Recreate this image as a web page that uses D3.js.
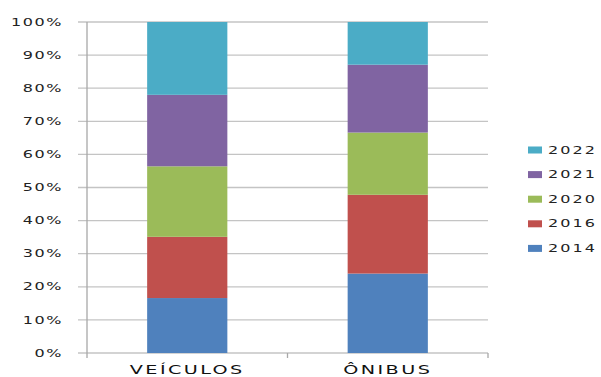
<!DOCTYPE html>
<html><head><meta charset="utf-8">
<script src="https://cdn.jsdelivr.net/npm/d3@7"></script>
<style>html,body{margin:0;padding:0;background:#fff;}svg{display:block;}</style>
</head><body><svg id="c" width="601" height="377"></svg>
<script>
const categories = ["VEÍCULOS", "ÔNIBUS"];
const years = ["2014", "2016", "2020", "2021", "2022"];
const colors = ["#4f81bd", "#c0504d", "#9bbb59", "#8064a2", "#4bacc6"];
const v2014 = [16.6, 24.0];
const v2016 = [18.5, 23.8];
const v2020 = [21.3, 18.8];
const v2021 = [21.6, 20.5];
const v2022 = [22.0, 12.9];
const yTicks = [0, 0.1, 0.2, 0.3, 0.4, 0.5, 0.6, 0.7, 0.8, 0.9, 1.0];

const seriesVals = [v2014, v2016, v2020, v2021, v2022];
const data = categories.map((c, i) => {
  const o = {cat: c};
  years.forEach((y, k) => o[y] = seriesVals[k][i]);
  return o;
});
const stacked = d3.stack().keys(years).offset(d3.stackOffsetExpand)(data);

const svg = d3.select("#c");
const L = 87, R = 488, T = 22, B = 353;
const x = d3.scaleBand().domain(categories).range([L, R]).paddingInner(0.6).paddingOuter(0.3);
const y = d3.scaleLinear().domain([0, 1]).range([B, T]);
const SX = 1.6;

// gridlines
svg.append("g").selectAll("line").data(yTicks).join("line")
  .attr("x1", 78).attr("x2", R).attr("y1", d => y(d)).attr("y2", d => y(d))
  .attr("stroke", "#c4c4c4").attr("stroke-width", 1.3);

// y axis line
svg.append("line").attr("x1", L).attr("x2", L).attr("y1", T).attr("y2", B + 5)
  .attr("stroke", "#a8a8a8").attr("stroke-width", 1.3);
// x ticks
svg.append("line").attr("x1", (L + R) / 2).attr("x2", (L + R) / 2).attr("y1", B).attr("y2", B + 5)
  .attr("stroke", "#a8a8a8").attr("stroke-width", 1.3);
svg.append("line").attr("x1", R).attr("x2", R).attr("y1", B).attr("y2", B + 5)
  .attr("stroke", "#a8a8a8").attr("stroke-width", 1.3);

// bars
svg.append("g").selectAll("g").data(stacked).join("g")
  .attr("fill", (d, i) => colors[i])
  .selectAll("rect").data(d => d).join("rect")
  .attr("x", d => x(d.data.cat))
  .attr("width", x.bandwidth())
  .attr("y", d => y(d[1]))
  .attr("height", d => y(d[0]) - y(d[1]));

// y tick labels
svg.append("g").selectAll("text").data(yTicks).join("text")
  .attr("transform", d => `translate(63,${y(d) + 3.6}) scale(${SX},1)`)
  .attr("text-anchor", "end")
  .style("font-family", "DejaVu Sans").style("font-size", "10px").style("letter-spacing", "1px")
  .attr("fill", "#222")
  .text(d => d3.format(".0%")(d));

// x labels
svg.append("g").selectAll("text").data(categories).join("text")
  .attr("transform", d => `translate(${x(d) + x.bandwidth() / 2},${B + 21}) scale(${SX},1)`)
  .attr("text-anchor", "middle")
  .style("font-family", "DejaVu Sans").style("font-size", "12px").style("letter-spacing", "1.5px")
  .attr("fill", "#111")
  .text(d => d);

// legend
const legOrder = years.map((y, i) => ({y, c: colors[i]})).reverse();
const lg = svg.append("g").selectAll("g").data(legOrder).join("g")
  .attr("transform", (d, i) => `translate(528,${150 + i * 24.6})`);
lg.append("rect").attr("x", 0).attr("y", -3.5).attr("width", 14).attr("height", 7).attr("fill", d => d.c);
lg.append("text").attr("transform", `translate(20,3.6) scale(${SX},1)`)
  .style("font-family", "DejaVu Sans").style("font-size", "10px").style("letter-spacing", "1.3px")
  .attr("fill", "#222")
  .text(d => d.y);
</script>
</body></html>
